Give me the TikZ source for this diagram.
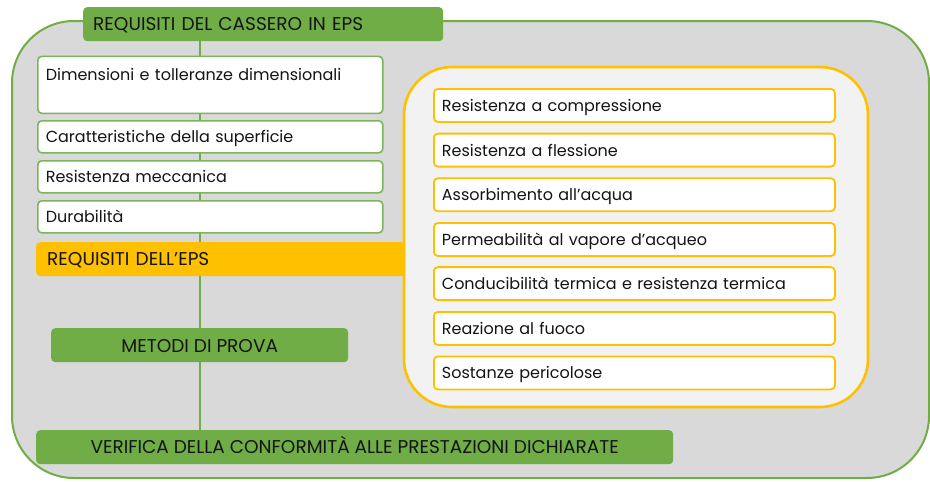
\documentclass[tikz,border=0pt]{standalone}
\usepackage{fontspec}
\setmainfont{Poppins}
\definecolor{pgreen}{HTML}{70AD47}
\definecolor{bgreen}{HTML}{7DB65A}
\definecolor{pyellow}{HTML}{FFC000}
\definecolor{pgray}{HTML}{D9D9D9}
\definecolor{plight}{HTML}{F2F2F2}
\definecolor{ptext}{HTML}{141414}
\tikzset{
  txt/.style={font=\fontsize{16}{18}\selectfont, text=ptext},
  captxt/.style={font=\fontsize{18.5}{20}\selectfont, text=ptext},
  whitebox/.style={txt, draw=bgreen, line width=1.6pt, fill=white, rounded corners=4pt,
    anchor=north west, inner xsep=8pt, inner ysep=0pt, align=left},
  yelbox/.style={txt, draw=pyellow, line width=1.8pt, fill=white, rounded corners=4pt,
    anchor=north west, inner xsep=8pt, inner ysep=0pt, align=left,
    text width=385pt, text height=22.5pt, text depth=10.5pt},
  greenhead/.style={captxt, fill=pgreen, rounded corners=4pt, anchor=north west, inner ysep=0pt},
}
\begin{document}
\begin{tikzpicture}[x=1pt,y=-1pt]
\useasboundingbox (0,0) rectangle (930,482);
% outer panel
\draw[draw=pgreen, line width=2pt, fill=pgray, rounded corners=62pt] (12,21) rectangle (929,478);
% spine
\coordinate (spineTop) at (199.5,30);
\coordinate (spineBot) at (199.5,440);
\draw[pgreen, line width=2pt] (spineTop) -- (spineBot);
% title
\node[greenhead, inner xsep=10pt, text width=340pt, align=left, text height=23pt, text depth=11pt] (title) at (83,7) {REQUISITI DEL CASSERO IN EPS};
% left boxes
\node[whitebox, text width=329pt, text height=24pt, text depth=33pt] (b1) at (37,55.5) {Dimensioni e tolleranze dimensionali};
\node[whitebox, text width=329pt, text height=22pt, text depth=10pt] (b2) at (37,120) {Caratteristiche della superficie};
\node[whitebox, text width=329pt, text height=22pt, text depth=10pt] (b3) at (37,160) {Resistenza meccanica};
\node[whitebox, text width=329pt, text height=22pt, text depth=10pt] (b4) at (37,200) {Durabilità};
% right panel
\draw[draw=pyellow, line width=2.6pt, fill=plight, rounded corners=48pt] (404,67) rectangle (868,407);
% EPS bar
\node[captxt, fill=pyellow, rounded corners=4pt, anchor=north west, inner xsep=11pt, inner ysep=0pt, text width=347pt, align=left, text height=23pt, text depth=11pt] (eps) at (36,242) {REQUISITI DELL’EPS};
% right boxes
\node[yelbox] (r1) at (433,88) {Resistenza a compressione};
\node[yelbox] (r2) at (433,132.7) {Resistenza a flessione};
\node[yelbox] (r3) at (433,177.4) {Assorbimento all’acqua};
\node[yelbox] (r4) at (433,222.1) {Permeabilità al vapore d’acqueo};
\node[yelbox] (r5) at (433,266.2) {Conducibilità termica e resistenza termica};
\node[yelbox] (r6) at (433,311) {Reazione al fuoco};
\node[yelbox] (r7) at (433,355.5) {Sostanze pericolose};
% metodi
\node[greenhead, minimum width=297pt, text height=24pt, text depth=10pt, inner xsep=0pt] (metodi) at (51,328) {METODI DI PROVA};
% verifica
\node[greenhead, minimum width=637pt, text height=23pt, text depth=11pt, inner xsep=0pt] (verifica) at (36,430) {VERIFICA DELLA CONFORMITÀ ALLE PRESTAZIONI DICHIARATE};
\end{tikzpicture}
\end{document}
